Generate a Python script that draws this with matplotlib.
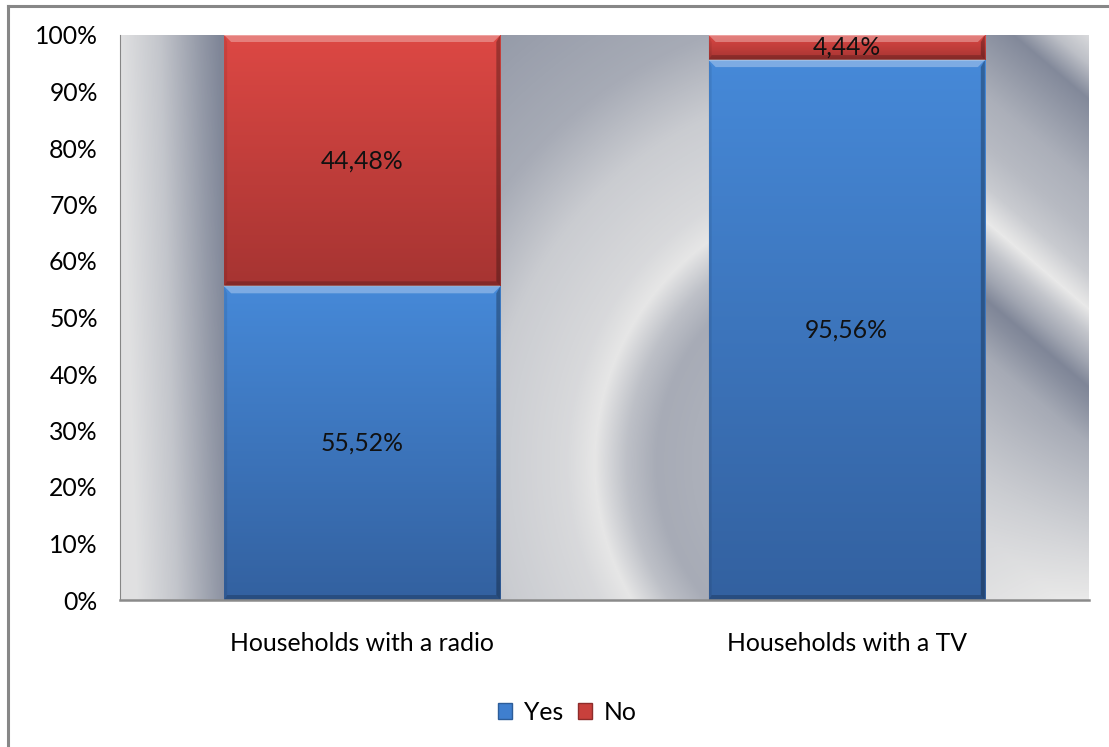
import numpy as np
import matplotlib
matplotlib.use('Agg')
import matplotlib.pyplot as plt
from matplotlib.colors import LinearSegmentedColormap, to_rgb
from matplotlib.patches import Polygon, Patch
from matplotlib.lines import Line2D

categories = ['Households with a radio', 'Households with a TV']
series_names = ['Yes', 'No']
yes_vals = [55.52, 95.56]
no_vals = [44.48, 4.44]
yticks = list(range(0, 101, 10))

FONT = 'Lato'
FS = 17.8

W, H = 1109, 747
fig = plt.figure(figsize=(W / 100, H / 100), dpi=100)
L, R, T, B = 120, 1089, 35, 600
ax = fig.add_axes([L / W, 1 - B / H, (R - L) / W, (B - T) / H])

# metallic plot-area fill, one profile per visible gap between bars
pw, ph = R - L, B - T
px, py = np.meshgrid(np.arange(pw) + 0.5, np.arange(ph) + 0.5)
xa, ya = px + L, py + T

# right gap: slanted bands
v = ya - 0.85 * (xa - 990)
t = np.interp(v, [-60, -20, 15, 40, 100, 150, 190, 215, 225, 250, 280, 303, 320, 360, 420, 480, 540, 600],
              [0.88, 0.55, 0.05, 0.15, 0.4, 0.5, 0.65, 0.85, 0.92, 0.6, 0.3, 0.02, 0.1, 0.35, 0.5, 0.65, 0.78, 0.85])
t += 0.2 * np.clip((xa - 985) / 104, 0, 1) * np.clip((ya - 420) / 180, 0, 1)

# middle gap: rings around a point behind the TV bar
d = np.hypot(px - 747, py - 428)
mid = px < 700
t[mid] = np.interp(d[mid], [150, 210, 240, 272, 300, 380, 455, 560, 700],
                   [0.42, 0.36, 0.55, 0.9, 0.78, 0.66, 0.36, 0.22, 0.22])

# left gap: near-horizontal sweep from light to dark
left = px < 200
u = px - 0.03 * py
t[left] = np.interp(u[left], [0, 40, 80, 100], [0.85, 0.6, 0.2, 0.02])

silver = LinearSegmentedColormap.from_list('silver', [(0, '#7d8496'), (0.9, '#e6e6e6'), (1, '#f4f4f4')])
ax.imshow(np.clip(t, 0, 1), cmap=silver, vmin=0, vmax=1, extent=(-0.5, 1.5, 0, 100), aspect='auto',
          origin='upper', interpolation='bilinear', zorder=0)

bar_w = 0.57
ux = 1 / 484.5          # data units per pixel, x
uy = 100 / 565          # data units per pixel, y


def bevel_bar(xc, y0, h, top, bot):
    x0, x1 = xc - bar_w / 2, xc + bar_w / 2
    y1 = y0 + h
    g = np.linspace(0, 1, 128)[:, None, None]
    img = (1 - g) * np.array(to_rgb(top)) + g * np.array(to_rgb(bot))
    ax.imshow(img, extent=(x0, x1, y0, y1), aspect='auto', origin='upper',
              interpolation='bilinear', zorder=2)
    tb, rb, bb, lb = 7 * uy, 4 * ux, 5 * uy, 3 * ux
    tbx, bby = 7 * ux, 5 * uy
    ax.add_patch(Polygon([(x0, y1), (x1, y1), (x1 - tbx, y1 - tb), (x0 + tbx, y1 - tb)],
                         closed=True, facecolor='white', alpha=0.3, lw=0, zorder=3))
    ax.add_patch(Polygon([(x1, y1), (x1, y0), (x1 - rb, y0 + bby), (x1 - rb, y1 - tb)],
                         closed=True, facecolor='black', alpha=0.28, lw=0, zorder=3))
    ax.add_patch(Polygon([(x0, y0), (x1, y0), (x1 - rb, y0 + bby), (x0 + lb, y0 + bby)],
                         closed=True, facecolor='black', alpha=0.2, lw=0, zorder=3))
    ax.add_patch(Polygon([(x0, y0), (x0, y1), (x0 + lb, y1 - tb), (x0 + lb, y0 + bby)],
                         closed=True, facecolor='black', alpha=0.08, lw=0, zorder=3))
    ax.plot([x0, x1], [y1, y1], color='white', alpha=0.35, lw=1.2, zorder=3,
            solid_capstyle='butt')


def pct(val):
    return f'{val:.2f}'.replace('.', ',') + '%'


x = np.arange(len(categories))
for i in x:
    bevel_bar(i, 0, yes_vals[i], '#4689d8', '#3361a0')
    bevel_bar(i, yes_vals[i], no_vals[i], '#dd4844', '#a63432')
    ax.text(i, yes_vals[i] / 2, pct(yes_vals[i]), ha='center', va='center',
            fontsize=FS, family=FONT, color='#111111', zorder=5)
    ax.text(i, yes_vals[i] + no_vals[i] / 2, pct(no_vals[i]), ha='center', va='center',
            fontsize=FS, family=FONT, color='#111111', zorder=5)

ax.set_xlim(-0.5, 1.5)
ax.set_ylim(0, 100)
ax.set_xticks(x)
ax.set_xticklabels(categories, fontsize=FS, family=FONT)
ax.set_yticks(yticks)
ax.set_yticklabels([f'{val}%' for val in yticks], fontsize=FS, family=FONT)
ax.tick_params(axis='y', length=0, pad=16)
ax.tick_params(axis='x', length=0, pad=23)
for s in ['top', 'right']:
    ax.spines[s].set_visible(False)
ax.spines['left'].set_color('#868686')
ax.spines['left'].set_linewidth(0.8)
ax.spines['bottom'].set_color('#8a8a8a')
ax.spines['bottom'].set_linewidth(1.8)
ax.spines['left'].set_zorder(6)
ax.spines['bottom'].set_zorder(6)

handles = [Patch(facecolor='#3f7fcf', edgecolor='#2d5d99', lw=1),
           Patch(facecolor='#c8403c', edgecolor='#8e2c2a', lw=1)]
fig.legend(handles, series_names, loc='center', bbox_to_anchor=(567 / W, 1 - 712 / H),
           ncol=2, frameon=False, prop={'family': FONT, 'size': FS},
           handlelength=0.6, handleheight=0.6, handletextpad=0.45, columnspacing=0.6)

# chart frame (left and top edges)
fig.add_artist(Line2D([8 / W, 8 / W], [0, 1 - 6 / H], color='#878787', lw=2.2,
                      transform=fig.transFigure))
fig.add_artist(Line2D([8 / W, 1], [1 - 6 / H, 1 - 6 / H], color='#878787', lw=2.2,
                      transform=fig.transFigure))

fig.savefig('out.png', dpi=100)
